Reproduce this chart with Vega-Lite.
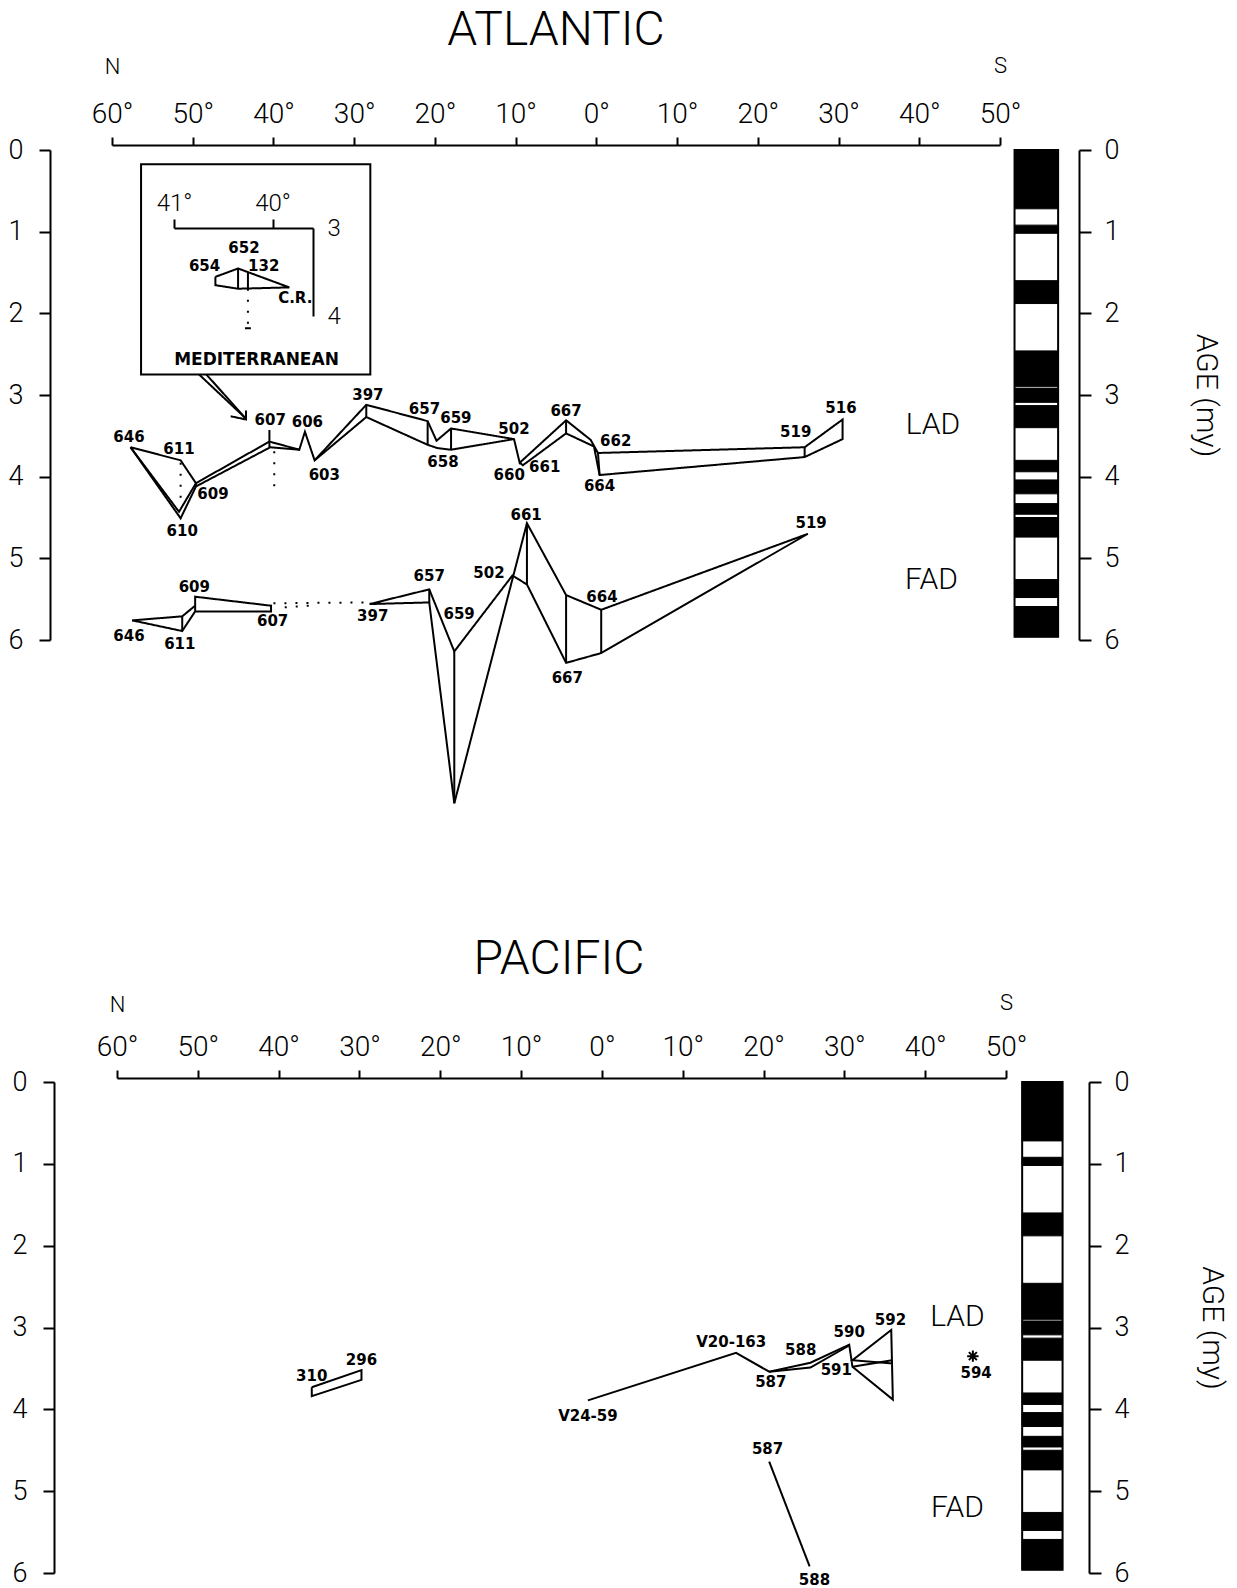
{
  "$schema": "https://vega.github.io/schema/vega-lite/v6.json",
  "background": "white",
  "padding": {"left": 8, "top": 7, "right": 5, "bottom": 5},
  "config": {
    "view": {"stroke": null},
    "axis": {"domainColor": "#000", "tickColor": "#000", "labelColor": "#000", "titleColor": "#000", "domainWidth": 2, "tickWidth": 2, "labelFont": "Roboto", "labelFontWeight": 300, "titleFont": "Roboto", "titleFontWeight": 300, "grid": false},
    "title": {"font": "Roboto", "fontWeight": 300, "color": "#000"}
  },
  "datasets": {
    "atlLines": [
      {"path": "LADa", "i": 1, "lat": 57.7, "age": 3.64, "kind": "observed"},
      {"path": "LADa", "i": 2, "lat": 51.5, "age": 3.80, "kind": "observed"},
      {"path": "LADa", "i": 3, "lat": 49.6, "age": 4.08, "kind": "observed"},
      {"path": "LADa", "i": 4, "lat": 40.5, "age": 3.57, "kind": "observed"},
      {"path": "LADa", "i": 5, "lat": 36.8, "age": 3.67, "kind": "observed"},
      {"path": "LADa", "i": 6, "lat": 36.1, "age": 3.45, "kind": "observed"},
      {"path": "LADa", "i": 7, "lat": 34.9, "age": 3.80, "kind": "observed"},
      {"path": "LADa", "i": 8, "lat": 28.5, "age": 3.12, "kind": "observed"},
      {"path": "LADa", "i": 9, "lat": 20.9, "age": 3.32, "kind": "observed"},
      {"path": "LADa", "i": 10, "lat": 19.8, "age": 3.56, "kind": "observed"},
      {"path": "LADa", "i": 11, "lat": 18.0, "age": 3.41, "kind": "observed"},
      {"path": "LADa", "i": 12, "lat": 10.2, "age": 3.54, "kind": "observed"},
      {"path": "LADa", "i": 13, "lat": 9.5, "age": 3.83, "kind": "observed"},
      {"path": "LADa", "i": 14, "lat": 3.75, "age": 3.31, "kind": "observed"},
      {"path": "LADa", "i": 15, "lat": 0.7, "age": 3.55, "kind": "observed"},
      {"path": "LADa", "i": 16, "lat": -0.2, "age": 3.71, "kind": "observed"},
      {"path": "LADa", "i": 17, "lat": -25.8, "age": 3.64, "kind": "observed"},
      {"path": "LADa", "i": 18, "lat": -30.5, "age": 3.30, "kind": "observed"},
      {"path": "LADa", "i": 19, "lat": -30.5, "age": 3.54, "kind": "observed"},
      {"path": "LADa", "i": 20, "lat": -25.8, "age": 3.76, "kind": "observed"},
      {"path": "LADa", "i": 21, "lat": -0.4, "age": 3.98, "kind": "observed"},
      {"path": "LADa", "i": 22, "lat": 0.3, "age": 3.63, "kind": "observed"},
      {"path": "LADa", "i": 23, "lat": 3.75, "age": 3.47, "kind": "observed"},
      {"path": "LADa", "i": 24, "lat": 9.1, "age": 3.86, "kind": "observed"},
      {"path": "LADa", "i": 25, "lat": 9.5, "age": 3.83, "kind": "observed"},
      {"path": "LADb", "i": 1, "lat": 57.7, "age": 3.64, "kind": "observed"},
      {"path": "LADb", "i": 2, "lat": 51.5, "age": 4.51, "kind": "observed"},
      {"path": "LADb", "i": 3, "lat": 49.6, "age": 4.12, "kind": "observed"},
      {"path": "LADb", "i": 4, "lat": 40.4, "age": 3.64, "kind": "observed"},
      {"path": "LADb", "i": 5, "lat": 36.8, "age": 3.67, "kind": "observed"},
      {"path": "LADc", "i": 1, "lat": 57.7, "age": 3.64, "kind": "observed"},
      {"path": "LADc", "i": 2, "lat": 51.7, "age": 4.43, "kind": "observed"},
      {"path": "LADc", "i": 3, "lat": 49.6, "age": 4.08, "kind": "observed"},
      {"path": "LADd", "i": 1, "lat": 34.9, "age": 3.80, "kind": "observed"},
      {"path": "LADd", "i": 2, "lat": 28.5, "age": 3.27, "kind": "observed"},
      {"path": "LADd", "i": 3, "lat": 20.9, "age": 3.61, "kind": "observed"},
      {"path": "LADd", "i": 4, "lat": 19.7, "age": 3.65, "kind": "observed"},
      {"path": "LADd", "i": 5, "lat": 18.0, "age": 3.67, "kind": "observed"},
      {"path": "LADd", "i": 6, "lat": 10.2, "age": 3.54, "kind": "observed"},
      {"path": "Lv397", "i": 1, "lat": 28.5, "age": 3.12, "kind": "observed"},
      {"path": "Lv397", "i": 2, "lat": 28.5, "age": 3.27, "kind": "observed"},
      {"path": "Lv657", "i": 1, "lat": 20.9, "age": 3.32, "kind": "observed"},
      {"path": "Lv657", "i": 2, "lat": 20.9, "age": 3.61, "kind": "observed"},
      {"path": "Lv659", "i": 1, "lat": 18.0, "age": 3.41, "kind": "observed"},
      {"path": "Lv659", "i": 2, "lat": 18.0, "age": 3.67, "kind": "observed"},
      {"path": "Lv667", "i": 1, "lat": 3.75, "age": 3.31, "kind": "observed"},
      {"path": "Lv667", "i": 2, "lat": 3.75, "age": 3.47, "kind": "observed"},
      {"path": "Lv662", "i": 1, "lat": -0.2, "age": 3.71, "kind": "observed"},
      {"path": "Lv662", "i": 2, "lat": -0.4, "age": 3.98, "kind": "observed"},
      {"path": "Lv519", "i": 1, "lat": -25.8, "age": 3.64, "kind": "observed"},
      {"path": "Lv519", "i": 2, "lat": -25.8, "age": 3.76, "kind": "observed"},
      {"path": "Lv607", "i": 1, "lat": 40.5, "age": 3.43, "kind": "observed"},
      {"path": "Lv607", "i": 2, "lat": 40.5, "age": 3.64, "kind": "observed"},
      {"path": "Lv609", "i": 1, "lat": 49.6, "age": 4.08, "kind": "observed"},
      {"path": "Lv609", "i": 2, "lat": 49.6, "age": 4.12, "kind": "observed"},
      {"path": "Ld611", "i": 1, "lat": 51.5, "age": 3.83, "kind": "inferred"},
      {"path": "Ld611", "i": 2, "lat": 51.5, "age": 4.27, "kind": "inferred"},
      {"path": "Ld607", "i": 1, "lat": 39.9, "age": 3.69, "kind": "inferred"},
      {"path": "Ld607", "i": 2, "lat": 39.9, "age": 4.18, "kind": "inferred"},
      {"path": "FADa", "i": 1, "lat": 57.5, "age": 5.76, "kind": "observed"},
      {"path": "FADa", "i": 2, "lat": 51.3, "age": 5.71, "kind": "observed"},
      {"path": "FADa", "i": 3, "lat": 49.7, "age": 5.58, "kind": "observed"},
      {"path": "FADb", "i": 1, "lat": 57.5, "age": 5.76, "kind": "observed"},
      {"path": "FADb", "i": 2, "lat": 51.3, "age": 5.89, "kind": "observed"},
      {"path": "FADb", "i": 3, "lat": 49.7, "age": 5.65, "kind": "observed"},
      {"path": "FADb", "i": 4, "lat": 40.3, "age": 5.65, "kind": "observed"},
      {"path": "FADb", "i": 5, "lat": 40.3, "age": 5.58, "kind": "observed"},
      {"path": "FADb", "i": 6, "lat": 49.7, "age": 5.47, "kind": "observed"},
      {"path": "FADb", "i": 7, "lat": 49.7, "age": 5.65, "kind": "observed"},
      {"path": "Fv611", "i": 1, "lat": 51.3, "age": 5.71, "kind": "observed"},
      {"path": "Fv611", "i": 2, "lat": 51.3, "age": 5.89, "kind": "observed"},
      {"path": "FADc", "i": 1, "lat": 28.1, "age": 5.56, "kind": "observed"},
      {"path": "FADc", "i": 2, "lat": 20.7, "age": 5.38, "kind": "observed"},
      {"path": "FADc", "i": 3, "lat": 17.6, "age": 6.14, "kind": "observed"},
      {"path": "FADc", "i": 4, "lat": 10.4, "age": 5.21, "kind": "observed"},
      {"path": "FADc", "i": 5, "lat": 8.6, "age": 5.32, "kind": "observed"},
      {"path": "FADc", "i": 6, "lat": 3.75, "age": 6.28, "kind": "observed"},
      {"path": "FADc", "i": 7, "lat": -0.6, "age": 6.16, "kind": "observed"},
      {"path": "FADc", "i": 8, "lat": -26.2, "age": 4.70, "kind": "observed"},
      {"path": "FADc", "i": 9, "lat": -0.6, "age": 5.63, "kind": "observed"},
      {"path": "FADc", "i": 10, "lat": 3.75, "age": 5.45, "kind": "observed"},
      {"path": "FADc", "i": 11, "lat": 8.6, "age": 4.57, "kind": "observed"},
      {"path": "FADc", "i": 12, "lat": 17.6, "age": 8.00, "kind": "observed"},
      {"path": "FADc", "i": 13, "lat": 20.7, "age": 5.54, "kind": "observed"},
      {"path": "FADc", "i": 14, "lat": 28.1, "age": 5.56, "kind": "observed"},
      {"path": "Fv657", "i": 1, "lat": 20.7, "age": 5.38, "kind": "observed"},
      {"path": "Fv657", "i": 2, "lat": 20.7, "age": 5.54, "kind": "observed"},
      {"path": "Fv659", "i": 1, "lat": 17.6, "age": 6.14, "kind": "observed"},
      {"path": "Fv659", "i": 2, "lat": 17.6, "age": 8.00, "kind": "observed"},
      {"path": "Fv661", "i": 1, "lat": 8.6, "age": 4.57, "kind": "observed"},
      {"path": "Fv661", "i": 2, "lat": 8.6, "age": 5.32, "kind": "observed"},
      {"path": "Fv667", "i": 1, "lat": 3.75, "age": 5.45, "kind": "observed"},
      {"path": "Fv667", "i": 2, "lat": 3.75, "age": 6.28, "kind": "observed"},
      {"path": "Fv664", "i": 1, "lat": -0.6, "age": 5.63, "kind": "observed"},
      {"path": "Fv664", "i": 2, "lat": -0.6, "age": 6.16, "kind": "observed"},
      {"path": "Fd1", "i": 1, "lat": 40.0, "age": 5.55, "kind": "inferred"},
      {"path": "Fd1", "i": 2, "lat": 28.3, "age": 5.54, "kind": "inferred"},
      {"path": "Fd2", "i": 1, "lat": 38.6, "age": 5.60, "kind": "inferred"},
      {"path": "Fd2", "i": 2, "lat": 35.6, "age": 5.58, "kind": "inferred"},
      {"path": "Ar1", "i": 1, "lat": 49.2, "age": 2.75, "kind": "observed"},
      {"path": "Ar1", "i": 2, "lat": 43.5, "age": 3.28, "kind": "observed"},
      {"path": "Ar2", "i": 1, "lat": 48.3, "age": 2.75, "kind": "observed"},
      {"path": "Ar2", "i": 2, "lat": 43.5, "age": 3.28, "kind": "observed"},
      {"path": "Ar3", "i": 1, "lat": 45.3, "age": 3.26, "kind": "observed"},
      {"path": "Ar3", "i": 2, "lat": 43.4, "age": 3.30, "kind": "observed"},
      {"path": "Ar3", "i": 3, "lat": 43.4, "age": 3.19, "kind": "observed"}
    ],
    "atlLabels": [
      {"lat": 57.9, "age": 3.51, "label": "646"},
      {"lat": 51.7, "age": 3.66, "label": "611"},
      {"lat": 47.5, "age": 4.21, "label": "609"},
      {"lat": 51.3, "age": 4.67, "label": "610"},
      {"lat": 40.4, "age": 3.31, "label": "607"},
      {"lat": 35.8, "age": 3.33, "label": "606"},
      {"lat": 33.7, "age": 3.98, "label": "603"},
      {"lat": 28.3, "age": 3.0, "label": "397"},
      {"lat": 21.3, "age": 3.17, "label": "657"},
      {"lat": 17.4, "age": 3.28, "label": "659"},
      {"lat": 19.0, "age": 3.82, "label": "658"},
      {"lat": 10.2, "age": 3.42, "label": "502"},
      {"lat": 10.8, "age": 3.98, "label": "660"},
      {"lat": 6.4, "age": 3.88, "label": "661"},
      {"lat": 3.75, "age": 3.19, "label": "667"},
      {"lat": -2.4, "age": 3.56, "label": "662"},
      {"lat": -0.4, "age": 4.12, "label": "664"},
      {"lat": -24.7, "age": 3.45, "label": "519"},
      {"lat": -30.3, "age": 3.16, "label": "516"},
      {"lat": 49.8, "age": 5.35, "label": "609"},
      {"lat": 57.9, "age": 5.95, "label": "646"},
      {"lat": 51.6, "age": 6.05, "label": "611"},
      {"lat": 40.1, "age": 5.77, "label": "607"},
      {"lat": 27.7, "age": 5.70, "label": "397"},
      {"lat": 20.7, "age": 5.22, "label": "657"},
      {"lat": 17.0, "age": 5.68, "label": "659"},
      {"lat": 13.3, "age": 5.18, "label": "502"},
      {"lat": 8.7, "age": 4.47, "label": "661"},
      {"lat": -0.7, "age": 5.47, "label": "664"},
      {"lat": 3.6, "age": 6.47, "label": "667"},
      {"lat": -26.6, "age": 4.57, "label": "519"}
    ],
    "atlBands": [
      {"lat": -41.7, "age": 3.37, "label": "LAD"},
      {"lat": -41.5, "age": 5.26, "label": "FAD"}
    ],
    "atlNote": [
      {"lat": 42.1, "age": 2.57, "label": "MEDITERRANEAN"}
    ],
    "atlBox": [
      {"lat": 56.4, "lat2": 28.0, "age": 0.175, "age2": 2.75}
    ],
    "insetLines": [
      {"path": "shape", "i": 1, "ilat": 40.58, "iage": 3.555, "kind": "observed"},
      {"path": "shape", "i": 2, "ilat": 40.35, "iage": 3.46, "kind": "observed"},
      {"path": "shape", "i": 3, "ilat": 39.83, "iage": 3.675, "kind": "observed"},
      {"path": "shape", "i": 4, "ilat": 40.35, "iage": 3.69, "kind": "observed"},
      {"path": "shape", "i": 5, "ilat": 40.58, "iage": 3.65, "kind": "observed"},
      {"path": "shape", "i": 6, "ilat": 40.58, "iage": 3.555, "kind": "observed"},
      {"path": "v652", "i": 1, "ilat": 40.35, "iage": 3.46, "kind": "observed"},
      {"path": "v652", "i": 2, "ilat": 40.35, "iage": 3.69, "kind": "observed"},
      {"path": "v132", "i": 1, "ilat": 40.25, "iage": 3.50, "kind": "observed"},
      {"path": "v132", "i": 2, "ilat": 40.25, "iage": 3.69, "kind": "observed"},
      {"path": "dash", "i": 1, "ilat": 40.25, "iage": 3.69, "kind": "inferred"},
      {"path": "dash", "i": 2, "ilat": 40.25, "iage": 4.14, "kind": "inferred"},
      {"path": "end", "i": 1, "ilat": 40.28, "iage": 4.14, "kind": "observed"},
      {"path": "end", "i": 2, "ilat": 40.22, "iage": 4.14, "kind": "observed"}
    ],
    "insetLabels": [
      {"ilat": 40.29, "iage": 3.23, "label": "652"},
      {"ilat": 40.69, "iage": 3.43, "label": "654"},
      {"ilat": 40.09, "iage": 3.43, "label": "132"},
      {"ilat": 39.77, "iage": 3.80, "label": "C.R."}
    ],
    "polarity": [
      {"from": 0, "to": 0.72},
      {"from": 0.92, "to": 1.02},
      {"from": 1.6, "to": 1.88},
      {"from": 2.46, "to": 2.9},
      {"from": 2.92, "to": 3.09},
      {"from": 3.13, "to": 3.4},
      {"from": 3.8, "to": 3.94},
      {"from": 4.04, "to": 4.21},
      {"from": 4.33, "to": 4.46},
      {"from": 4.5, "to": 4.74},
      {"from": 5.26, "to": 5.48},
      {"from": 5.59, "to": 5.96}
    ],
    "barFrame": [
      {"from": 0, "to": 5.96}
    ],
    "pacLines": [
      {"path": "P310", "i": 1, "lat": 35.9, "age": 3.73, "kind": "observed"},
      {"path": "P310", "i": 2, "lat": 29.75, "age": 3.52, "kind": "observed"},
      {"path": "P310", "i": 3, "lat": 29.75, "age": 3.64, "kind": "observed"},
      {"path": "P310", "i": 4, "lat": 35.9, "age": 3.84, "kind": "observed"},
      {"path": "P310", "i": 5, "lat": 35.9, "age": 3.73, "kind": "observed"},
      {"path": "Pa", "i": 1, "lat": 1.73, "age": 3.89, "kind": "observed"},
      {"path": "Pa", "i": 2, "lat": -16.6, "age": 3.31, "kind": "observed"},
      {"path": "Pa", "i": 3, "lat": -20.7, "age": 3.54, "kind": "observed"},
      {"path": "Pa", "i": 4, "lat": -25.8, "age": 3.43, "kind": "observed"},
      {"path": "Pa", "i": 5, "lat": -30.6, "age": 3.21, "kind": "observed"},
      {"path": "Pa", "i": 6, "lat": -31.0, "age": 3.48, "kind": "observed"},
      {"path": "Pa", "i": 7, "lat": -36.0, "age": 3.88, "kind": "observed"},
      {"path": "Pa", "i": 8, "lat": -35.8, "age": 3.03, "kind": "observed"},
      {"path": "Pa", "i": 9, "lat": -31.0, "age": 3.40, "kind": "observed"},
      {"path": "Pa", "i": 10, "lat": -36.0, "age": 3.44, "kind": "observed"},
      {"path": "Pb", "i": 1, "lat": -20.7, "age": 3.54, "kind": "observed"},
      {"path": "Pb", "i": 2, "lat": -25.8, "age": 3.49, "kind": "observed"},
      {"path": "Pb", "i": 3, "lat": -30.6, "age": 3.22, "kind": "observed"},
      {"path": "Pc", "i": 1, "lat": -31.0, "age": 3.48, "kind": "observed"},
      {"path": "Pc", "i": 2, "lat": -35.9, "age": 3.40, "kind": "observed"},
      {"path": "Pfad", "i": 1, "lat": -20.7, "age": 4.64, "kind": "observed"},
      {"path": "Pfad", "i": 2, "lat": -25.7, "age": 5.92, "kind": "observed"}
    ],
    "pacLabels": [
      {"lat": 35.9, "age": 3.59, "label": "310"},
      {"lat": 29.75, "age": 3.40, "label": "296"},
      {"lat": 1.73, "age": 4.08, "label": "V24-59"},
      {"lat": -16.0, "age": 3.18, "label": "V20-163"},
      {"lat": -24.6, "age": 3.27, "label": "588"},
      {"lat": -20.9, "age": 3.67, "label": "587"},
      {"lat": -30.6, "age": 3.06, "label": "590"},
      {"lat": -29.0, "age": 3.52, "label": "591"},
      {"lat": -35.7, "age": 2.91, "label": "592"},
      {"lat": -46.3, "age": 3.55, "label": "594"},
      {"lat": -20.5, "age": 4.49, "label": "587"},
      {"lat": -26.3, "age": 6.08, "label": "588"}
    ],
    "pacBands": [
      {"lat": -44.0, "age": 2.87, "label": "LAD"},
      {"lat": -44.0, "age": 5.21, "label": "FAD"}
    ],
    "pacStar": [
      {"lat": -45.9, "age": 3.35, "site": "594"}
    ]
  },
  "vconcat": [
    {
      "width": 888,
      "height": 490,
      "title": {"text": "ATLANTIC", "fontSize": 48, "anchor": "middle", "offset": -1},
      "layer": [
        {
          "encoding": {
            "x": {"field": "lat", "type": "quantitative", "scale": {"domain": [60, -50]},
              "axis": {"orient": "top", "offset": 5, "values": [60, 50, 40, 30, 20, 10, 0, -10, -20, -30, -40, -50], "labelExpr": "abs(datum.value) + '°'", "tickSize": 8, "labelFontSize": 28, "labelPadding": 9, "labelFlush": false, "labelOverlap": false, "title": "N", "titleFontSize": 22, "titleAnchor": "start", "titleAlign": "center", "titlePadding": 22}},
            "y": {"field": "age", "type": "quantitative", "scale": {"domain": [0, 6], "reverse": true},
              "axis": {"orient": "left", "offset": 62, "values": [0, 1, 2, 3, 4, 5, 6], "tickSize": 11, "labelFontSize": 27, "labelPadding": 16, "labelFlush": false, "title": null}}
          },
          "layer": [
            {
              "data": {"name": "atlLines"},
              "mark": {"type": "line", "stroke": "black", "strokeWidth": 2, "strokeJoin": "miter"},
              "encoding": {
                "detail": {"field": "path"},
                "order": {"field": "i", "type": "quantitative"},
                "strokeDash": {"field": "kind", "type": "nominal", "scale": {"domain": ["observed", "inferred"], "range": [[1, 0], [2, 9]]}, "legend": null}
              }
            },
            {
              "data": {"name": "atlBox"},
              "mark": {"type": "rect", "filled": false, "stroke": "black", "strokeWidth": 2},
              "encoding": {"x2": {"field": "lat2"}, "y2": {"field": "age2"}}
            },
            {
              "data": {"name": "atlLabels"},
              "mark": {"type": "text", "font": "DejaVu Sans", "fontWeight": "bold", "fontSize": 15, "align": "center", "baseline": "middle"},
              "encoding": {"text": {"field": "label"}}
            },
            {
              "data": {"name": "atlNote"},
              "mark": {"type": "text", "font": "DejaVu Sans", "fontWeight": "bold", "fontSize": 17, "align": "center", "baseline": "middle"},
              "encoding": {"text": {"field": "label"}}
            },
            {
              "data": {"name": "atlBands"},
              "mark": {"type": "text", "font": "Roboto", "fontWeight": 300, "fontSize": 30, "align": "center", "baseline": "middle"},
              "encoding": {"text": {"field": "label"}}
            }
          ]
        },
        {
          "encoding": {
            "x": {"datum": -51.8, "type": "quantitative", "scale": {"domain": [60, -50]},
              "axis": {"orient": "top", "offset": 5, "labels": false, "ticks": false, "domain": false, "title": "S", "titleFontSize": 22, "titleAnchor": "end", "titleAlign": "center", "titlePadding": 68}},
            "x2": {"datum": -57.2},
            "y": {"field": "from", "type": "quantitative", "scale": {"domain": [0, 6], "reverse": true},
              "axis": {"orient": "right", "offset": 79, "values": [0, 1, 2, 3, 4, 5, 6], "tickSize": 12, "labelFontSize": 27, "labelPadding": 13, "labelFlush": false, "title": "AGE (my)", "titleFontSize": 30, "titlePadding": 72}},
            "y2": {"field": "to"}
          },
          "layer": [
            {"data": {"name": "barFrame"}, "mark": {"type": "rect", "fill": "white", "stroke": "black", "strokeWidth": 2}},
            {"data": {"name": "polarity"}, "mark": {"type": "rect", "fill": "black", "stroke": "black", "strokeWidth": 1}}
          ]
        },
        {
          "encoding": {
            "x": {"field": "ilat", "type": "quantitative", "scale": {"domain": [41, 39.59], "range": [62, 201]},
              "axis": {"orient": "top", "offset": -78, "values": [41, 40], "labelExpr": "datum.value + '°'", "tickSize": 9, "labelFontSize": 24, "labelPadding": 4, "labelFlush": false, "title": null}},
            "y": {"field": "iage", "type": "quantitative", "scale": {"domain": [3, 4], "range": [78, 166]},
              "axis": {"orient": "right", "offset": -687, "values": [3, 4], "format": "d", "ticks": false, "tickSize": 0, "labelFontSize": 24, "labelPadding": 14, "labelFlush": false, "title": null}}
          },
          "layer": [
            {
              "data": {"name": "insetLines"},
              "mark": {"type": "line", "stroke": "black", "strokeWidth": 2, "strokeJoin": "miter"},
              "encoding": {
                "detail": {"field": "path"},
                "order": {"field": "i", "type": "quantitative"},
                "strokeDash": {"field": "kind", "type": "nominal", "scale": {"domain": ["observed", "inferred"], "range": [[1, 0], [5, 4]]}, "legend": null}
              }
            },
            {
              "data": {"name": "insetLabels"},
              "mark": {"type": "text", "font": "DejaVu Sans", "fontWeight": "bold", "fontSize": 15, "align": "center", "baseline": "middle"},
              "encoding": {"text": {"field": "label"}}
            }
          ]
        }
      ],
      "resolve": {"scale": {"x": "independent", "y": "independent"}}
    },
    {
      "width": 894,
      "height": 491,
      "title": {"text": "PACIFIC", "fontSize": 48, "anchor": "middle", "offset": 7},
      "layer": [
        {
          "encoding": {
            "x": {"field": "lat", "type": "quantitative", "scale": {"domain": [60, -50], "range": [5, 894]},
              "axis": {"orient": "top", "offset": 4, "values": [60, 50, 40, 30, 20, 10, 0, -10, -20, -30, -40, -50], "labelExpr": "abs(datum.value) + '°'", "tickSize": 8, "labelFontSize": 28, "labelPadding": 9, "labelFlush": false, "labelOverlap": false, "title": "N", "titleFontSize": 22, "titleAnchor": "start", "titleAlign": "center", "titlePadding": 17}},
            "y": {"field": "age", "type": "quantitative", "scale": {"domain": [0, 6], "reverse": true},
              "axis": {"orient": "left", "offset": 58, "values": [0, 1, 2, 3, 4, 5, 6], "tickSize": 11, "labelFontSize": 27, "labelPadding": 16, "labelFlush": false, "title": null}}
          },
          "layer": [
            {
              "data": {"name": "pacLines"},
              "mark": {"type": "line", "stroke": "black", "strokeWidth": 2, "strokeJoin": "miter"},
              "encoding": {
                "detail": {"field": "path"},
                "order": {"field": "i", "type": "quantitative"}
              }
            },
            {
              "data": {"name": "pacLabels"},
              "mark": {"type": "text", "font": "DejaVu Sans", "fontWeight": "bold", "fontSize": 15, "align": "center", "baseline": "middle"},
              "encoding": {"text": {"field": "label"}}
            },
            {
              "data": {"name": "pacBands"},
              "mark": {"type": "text", "font": "Roboto", "fontWeight": 300, "fontSize": 30, "align": "center", "baseline": "middle"},
              "encoding": {"text": {"field": "label"}}
            },
            {
              "data": {"name": "pacStar"},
              "mark": {"type": "point", "shape": "M0,-1L0,1M-1,0L1,0M-0.7,-0.7L0.7,0.7M-0.7,0.7L0.7,-0.7", "filled": false, "stroke": "black", "strokeWidth": 2, "size": 130, "opacity": 1}
            }
          ]
        },
        {
          "encoding": {
            "x": {"datum": -52.0, "type": "quantitative", "scale": {"domain": [60, -50], "range": [5, 894]},
              "axis": {"orient": "top", "offset": 4, "labels": false, "ticks": false, "domain": false, "title": "S", "titleFontSize": 22, "titleAnchor": "end", "titleAlign": "center", "titlePadding": 64}},
            "x2": {"datum": -57.0},
            "y": {"field": "from", "type": "quantitative", "scale": {"domain": [0, 6], "reverse": true},
              "axis": {"orient": "right", "offset": 83, "values": [0, 1, 2, 3, 4, 5, 6], "tickSize": 12, "labelFontSize": 27, "labelPadding": 13, "labelFlush": false, "title": "AGE (my)", "titleFontSize": 30, "titlePadding": 68}},
            "y2": {"field": "to"}
          },
          "layer": [
            {"data": {"name": "barFrame"}, "mark": {"type": "rect", "fill": "white", "stroke": "black", "strokeWidth": 2}},
            {"data": {"name": "polarity"}, "mark": {"type": "rect", "fill": "black", "stroke": "black", "strokeWidth": 1}}
          ]
        }
      ],
      "resolve": {"scale": {"x": "independent", "y": "independent"}}
    }
  ],
  "spacing": 442,
  "bounds": "flush"
}
